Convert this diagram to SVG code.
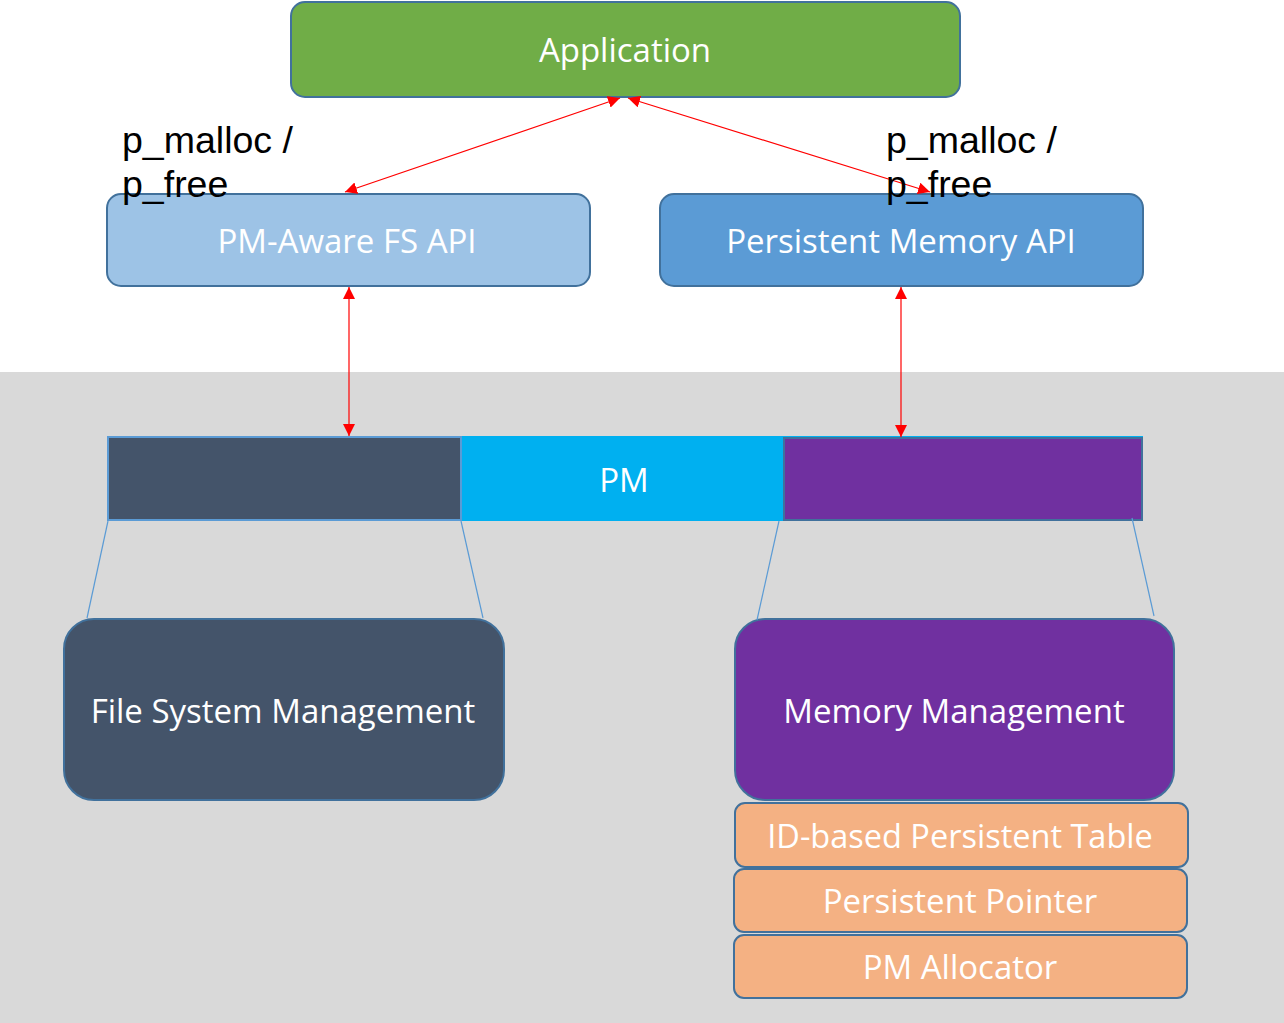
<svg xmlns="http://www.w3.org/2000/svg" width="1284" height="1023" viewBox="0 0 1284 1023">
<defs>
<marker id="ah" viewBox="0 0 10 10" refX="10" refY="5" markerWidth="12" markerHeight="12" markerUnits="userSpaceOnUse" orient="auto-start-reverse">
<path d="M0,0 L10,5 L0,10 z" fill="#ff0000"/>
</marker>
<style>
.t{font-family:"Open Sans","Noto Sans",sans-serif;font-size:33px;fill:#ffffff;text-anchor:middle}
.lbl{font-family:"Liberation Sans",Arial,sans-serif;font-size:37.5px;fill:#000000}
.box{stroke:#41719c;stroke-width:2}
.arr{stroke:#ff0000;stroke-width:1.2;fill:none;marker-start:url(#ah);marker-end:url(#ah)}
.ln{stroke:#5b9bd5;stroke-width:1.2;fill:none}
</style>
</defs>
<rect x="0" y="0" width="1284" height="1023" fill="#ffffff"/>
<rect x="0" y="372" width="1284" height="651" fill="#d9d9d9"/>

<g id="application">
<rect class="box" x="291" y="2" width="669" height="95" rx="14" fill="#70ad47"/>
<text class="t" x="625" y="62">Application</text>
</g>
<g id="pm-aware-fs-api">
<rect class="box" x="107" y="194" width="483" height="92" rx="14" fill="#9dc3e6"/>
<text class="t" x="347" y="253">PM-Aware FS API</text>
</g>
<g id="persistent-memory-api">
<rect class="box" x="660" y="194" width="483" height="92" rx="14" fill="#5b9bd5"/>
<text class="t" x="901" y="253">Persistent Memory API</text>
</g>
<g id="label-left">
<text class="lbl" x="122" y="153">p_malloc /</text>
<text class="lbl" x="122" y="197">p_free</text>
</g>
<g id="pm-bar">
<rect x="107" y="436" width="1036" height="85" fill="#00b0f0"/>
<rect x="108" y="437" width="353" height="83" fill="#44546a" stroke="#5b9bd5" stroke-width="2"/>
<rect x="784" y="438" width="358" height="82" fill="#7030a0" stroke="#41719c" stroke-width="2"/>
<text class="t" x="624" y="492">PM</text>
</g>
<g id="file-system-management">
<rect class="box" x="64" y="619" width="440" height="181" rx="30" fill="#44546a"/>
<text class="t" x="283" y="723">File System Management</text>
</g>
<g id="memory-management">
<rect class="box" x="735" y="619" width="439" height="181" rx="30" fill="#7030a0"/>
<text class="t" x="954" y="723">Memory Management</text>
</g>
<g id="id-based-persistent-table">
<rect class="box" x="735" y="803" width="453" height="64" rx="10" fill="#f4b183"/>
<text class="t" x="960" y="848" style="font-size:32.5px">ID-based Persistent Table</text>
</g>
<g id="persistent-pointer">
<rect class="box" x="734" y="869" width="453" height="63" rx="10" fill="#f4b183"/>
<text class="t" x="960" y="913">Persistent Pointer</text>
</g>
<g id="pm-allocator">
<rect class="box" x="734" y="935" width="453" height="63" rx="10" fill="#f4b183"/>
<text class="t" x="960" y="979">PM Allocator</text>
</g>
<g id="connectors">
<line class="arr" x1="620" y1="98" x2="345" y2="192"/>
<line class="arr" x1="628" y1="98" x2="930" y2="192"/>
<line class="arr" x1="349" y1="287" x2="349" y2="436"/>
<line class="arr" x1="901" y1="287" x2="901" y2="437"/>
<line class="ln" x1="108" y1="521" x2="87" y2="618"/>
<line class="ln" x1="461" y1="521" x2="483" y2="618"/>
<line class="ln" x1="779" y1="521" x2="757" y2="620"/>
<line class="ln" x1="1132" y1="518" x2="1154" y2="616"/>
</g>
<g id="label-right">
<text class="lbl" x="886" y="153">p_malloc /</text>
<text class="lbl" x="886" y="197">p_free</text>
</g>
</svg>
